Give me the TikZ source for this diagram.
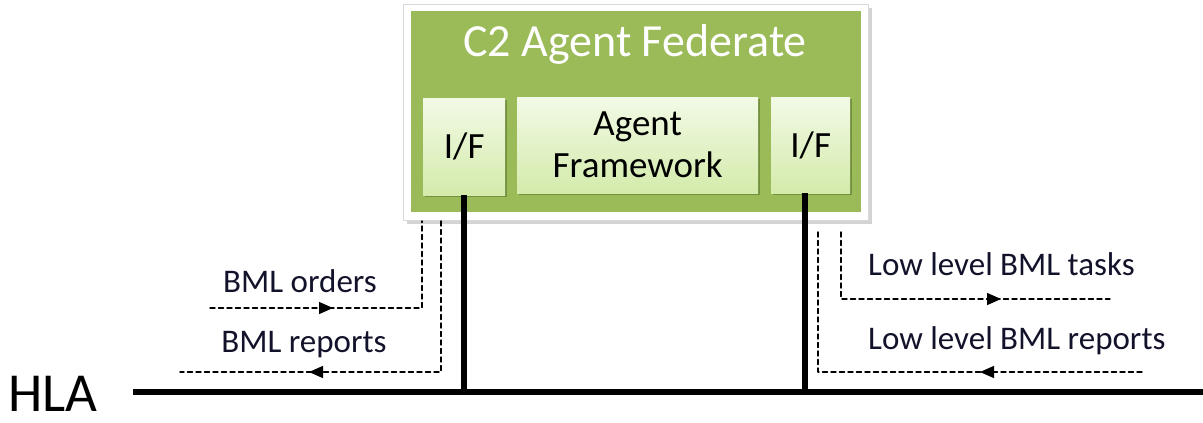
\documentclass[tikz,border=0pt]{standalone}
\usepackage{fontspec}
\setmainfont{Carlito}
\usetikzlibrary{arrows.meta,shadows,decorations.markings}
\definecolor{ggbb55}{rgb}{0.608,0.733,0.349}
\definecolor{eef8dd}{rgb}{0.95,0.98,0.90}
\definecolor{d4eaac}{rgb}{0.83,0.92,0.67}
\definecolor{qq1133}{rgb}{0.07,0.07,0.17}
\definecolor{sh4422}{rgb}{0.3,0.4,0.15}

\begin{document}
\begin{tikzpicture}[line cap=round,line join=round,x=1pt,y=-1pt,
  innerbox/.style={top color=eef8dd,bottom color=d4eaac,inner sep=0pt,anchor=north west,
    font=\fontsize{37}{42}\selectfont,align=center,
    drop shadow={shadow xshift=2pt,shadow yshift=-2pt,fill=sh4422,opacity=0.5}},
  lbl/.style={text=qq1133,font=\fontsize{33}{38}\selectfont,inner sep=0pt},
  msg/.style={dash pattern=on 5pt off 3.5pt,line width=1.4pt},
  bus/.style={line width=6pt,line cap=butt},
  tip at/.style={postaction={decorate},decoration={markings,
    mark=at position #1 with {\arrow{Triangle[length=14pt,width=12pt]}}}}]
\useasboundingbox (0,0) rectangle (1203,423);
% federate frame
\node[fill=white,draw=black!15,line width=1pt,minimum width=465,minimum height=216,
  anchor=north west,inner sep=0pt,
  drop shadow={shadow xshift=3pt,shadow yshift=-3pt,opacity=0.35}] (fed) at (403,4) {};
\node[fill=ggbb55,minimum width=450,minimum height=201,anchor=north west,inner sep=0pt] (grn) at (411,11) {};
\node[text=white,font=\fontsize{46}{50}\selectfont,anchor=base] (ttl) at (635,56) {C2 Agent Federate};
\node[innerbox,minimum width=82,minimum height=97] (ifl) at (423,98) {I/F};
\node[innerbox,minimum width=241,minimum height=96] (fw) at (517,97) {Agent\\Framework};
\node[innerbox,minimum width=79,minimum height=96] (ifr) at (771,97) {I/F};
% HLA bus
\node[anchor=base west,inner sep=0pt,font=\fontsize{55}{57}\selectfont] (hla) at (8,411) {HLA};
\coordinate (busL) at (133,392);
\coordinate (busR) at (1203,392);
\draw[bus] (busL) -- (busR);
\draw[bus] (ifl.south) -- (ifl.south |- busL);
\draw[bus] ([xshift=-6pt]ifr.south) -- ([xshift=-6pt]ifr.south |- busL);
% message flows
\coordinate (ordS) at (210,308);
\coordinate (ordK) at (422,308);
\coordinate (repK) at (441,372);
\coordinate (repE) at (180,372);
\coordinate (tskK) at (841,299);
\coordinate (tskE) at (1110,299);
\coordinate (lrpS) at (1142,372);
\coordinate (lrpK) at (818,372);
\draw[msg,tip at=123pt] (ordS) -- (ordK) -- (ordK |- fed.south);
\draw[msg,tip at=283pt] (repK |- fed.south) -- (repK) -- (repE);
\draw[msg,tip at=227pt] ([yshift=-11pt]tskK |- fed.south) -- (tskK) -- (tskE);
\draw[msg,tip at=162pt] (lrpS) -- (lrpK) -- ([yshift=-10pt]lrpK |- fed.south);
\node[lbl,anchor=base] (lOrd) at (300,292) {BML orders};
\node[lbl,anchor=base] (lRep) at (304,352) {BML reports};
\node[lbl,anchor=base west] (lTsk) at (868,275) {Low level BML tasks};
\node[lbl,anchor=base west] (lLrp) at (868,349) {Low level BML reports};
\end{tikzpicture}
\end{document}
